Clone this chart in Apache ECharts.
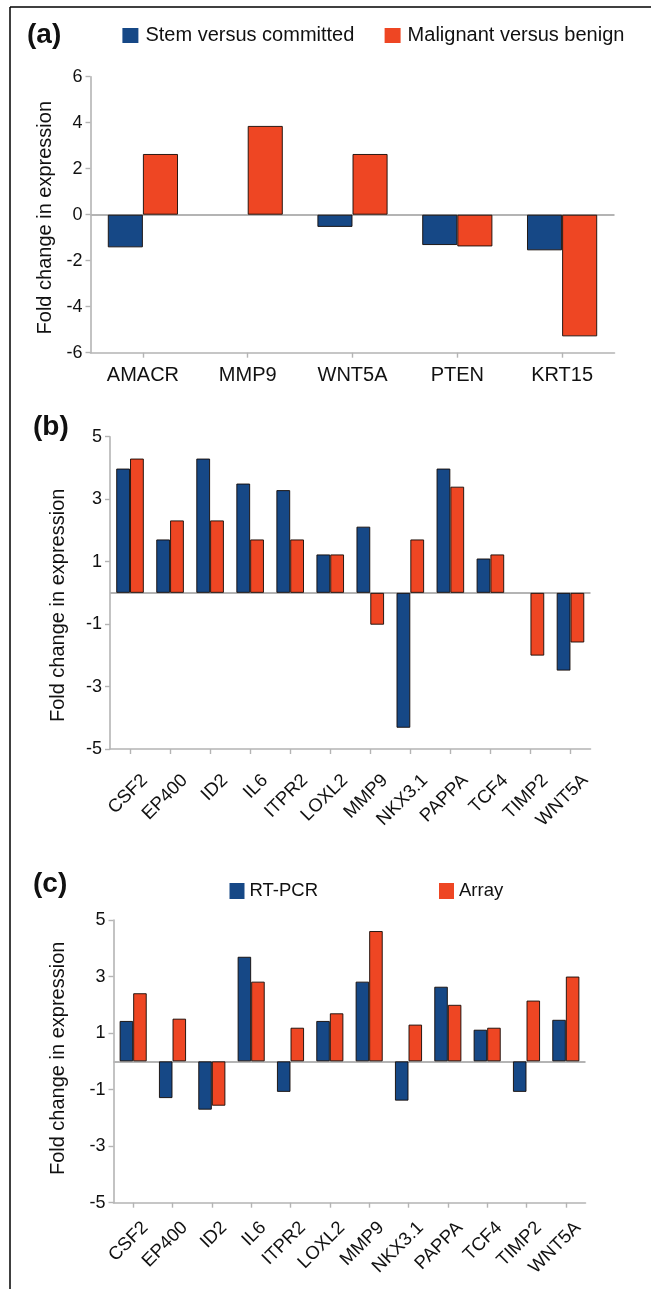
<!DOCTYPE html>
<html>
<head>
<meta charset="utf-8">
<script src="https://cdn.jsdelivr.net/npm/echarts@6/dist/echarts.min.js"></script>
<style>
html,body{margin:0;padding:0;background:#fff;}
#chart{width:651px;height:1289px;}
</style>
</head>
<body>
<div id="chart"></div>
<script>
// ---------- data ----------
var catsA = ['AMACR', 'MMP9', 'WNT5A', 'PTEN', 'KRT15'];
var stemA = [-1.42, null, -0.53, -1.32, -1.55];
var maligA = [2.64, 3.86, 2.64, -1.38, -5.29];

var catsB = ['CSF2', 'EP400', 'ID2', 'IL6', 'ITPR2', 'LOXL2', 'MMP9', 'NKX3.1', 'PAPPA', 'TCF4', 'TIMP2', 'WNT5A'];
var stemB = [3.98, 1.71, 4.30, 3.50, 3.29, 1.23, 2.12, -4.32, 3.98, 1.10, null, -2.49];
var maligB = [4.30, 2.32, 2.32, 1.71, 1.71, 1.23, -1.02, 1.71, 3.40, 1.23, -2.01, -1.59];

var catsC = ['CSF2', 'EP400', 'ID2', 'IL6', 'ITPR2', 'LOXL2', 'MMP9', 'NKX3.1', 'PAPPA', 'TCF4', 'TIMP2', 'WNT5A'];
var rtpcrC = [1.43, -1.30, -1.71, 3.70, -1.08, 1.43, 2.82, -1.39, 2.64, 1.12, -1.08, 1.47];
var arrayC = [2.41, 1.51, -1.57, 2.82, 1.19, 1.70, 4.61, 1.30, 2.00, 1.19, 2.15, 3.00];

var ticksA = [-6, -4, -2, 0, 2, 4, 6];
var ticksBC = [-5, -3, -1, 1, 3, 5];

var seriesNamesA = ['Stem versus committed', 'Malignant versus benign'];
var seriesNamesC = ['RT-PCR', 'Array'];
var yTitle = 'Fold change in expression';
var panelLabels = ['(a)', '(b)', '(c)'];

// ---------- style ----------
var FONT = "'Liberation Sans', Arial, Helvetica, sans-serif";
var BLUE = '#164886';
var RED = '#ee4623';
var GREY = '#b4b4b4';

function yAxisDef(gi, ticks, nameGap, namePad) {
  return {
    type: 'value', gridIndex: gi,
    min: ticks[0], max: ticks[ticks.length - 1], interval: 2,
    name: yTitle, nameLocation: 'middle', nameRotate: 90, nameGap: nameGap,
    nameTextStyle: { fontFamily: FONT, fontSize: 20, color: '#111', padding: namePad },
    axisLine: { show: true, lineStyle: { color: GREY, width: 1.6 } },
    axisTick: { show: true, length: 5, lineStyle: { color: GREY, width: 1.4 },
      customValues: ticks },
    axisLabel: { fontFamily: FONT, fontSize: 18, color: '#111', margin: 8,
      customValues: ticks },
    splitLine: { show: false }
  };
}

function xAxisDef(gi, cats, labelOpt) {
  return {
    type: 'category', gridIndex: gi, data: cats,
    axisLine: { show: true, onZero: false, lineStyle: { color: GREY, width: 1.6 } },
    axisTick: { show: true, alignWithLabel: true, length: 5, lineStyle: { color: GREY, width: 1.4 } },
    axisLabel: labelOpt,
    splitLine: { show: false }
  };
}

function barSeries(name, gi, data, color, gap, withZero) {
  var s = {
    type: 'bar', name: name, xAxisIndex: gi, yAxisIndex: gi, data: data,
    barGap: '0%', barCategoryGap: gap,
    itemStyle: { color: color, borderColor: 'rgba(20,10,5,0.9)', borderWidth: 1 },
    emphasis: { disabled: true },
    animation: false
  };
  if (withZero) {
    s.markLine = {
      silent: true, symbol: 'none', z: 1, animation: false,
      label: { show: false },
      lineStyle: { color: GREY, type: 'solid', width: 2 },
      data: [{ yAxis: 0 }]
    };
  }
  return s;
}

function legendDef(name, left, top, w, h, fs, pad) {
  return {
    data: [name], left: left, top: top, orient: 'horizontal',
    itemWidth: w, itemHeight: h, selectedMode: false, padding: 0,
    icon: 'rect',
    itemStyle: { borderWidth: 0 },
    textStyle: { fontFamily: FONT, fontSize: fs, color: '#111', padding: [0, 0, 0, pad] }
  };
}

var chart = echarts.init(document.getElementById('chart'), null, { renderer: 'canvas', width: 651, height: 1289 });

var option = {
  backgroundColor: '#fff',
  animation: false,
  grid: [
    { left: 90.5, top: 76.7, width: 524, height: 276 },
    { left: 110, top: 436.7, width: 480.5, height: 312.3 },
    { left: 113.5, top: 920, width: 472, height: 282.7 }
  ],
  legend: [
    legendDef(seriesNamesA[0], 122.4, 25.5, 16, 15, 20, 2),
    legendDef(seriesNamesA[1], 384.6, 25.5, 16, 15, 20, 2),
    legendDef(seriesNamesC[0], 229.5, 881.5, 15, 16, 18.5, 0),
    legendDef(seriesNamesC[1], 439, 881.5, 15, 16, 18.5, 0)
  ],
  xAxis: [
    xAxisDef(0, catsA, { fontFamily: FONT, fontSize: 20, color: '#111', margin: 13, interval: 0 }),
    xAxisDef(1, catsB, { fontFamily: FONT, fontSize: 18.5, color: '#111', interval: 0,
      rotate: 45, verticalAlign: 'top', lineHeight: 41.6, margin: 13.8 }),
    xAxisDef(2, catsC, { fontFamily: FONT, fontSize: 18.5, color: '#111', interval: 0,
      rotate: 45, verticalAlign: 'top', lineHeight: 34.2, margin: 10.1 })
  ],
  yAxis: [
    yAxisDef(0, ticksA, 35.5, [0, 6, 0, 0]),
    yAxisDef(1, ticksBC, 42, [0, 25, 0, 0]),
    yAxisDef(2, ticksBC, 45.5, [0, 0, 0, 6])
  ],
  series: [
    barSeries(seriesNamesA[0], 0, stemA, BLUE, '33%', true),
    barSeries(seriesNamesA[1], 0, maligA, RED, '33%', false),
    barSeries('Stem versus committed (b)', 1, stemB, BLUE, '31%', true),
    barSeries('Malignant versus benign (b)', 1, maligB, RED, '31%', false),
    barSeries(seriesNamesC[0], 2, rtpcrC, BLUE, '31%', true),
    barSeries(seriesNamesC[1], 2, arrayC, RED, '31%', false)
  ],
  graphic: [
    { type: 'line', silent: true, shape: { x1: 10, y1: 7, x2: 651, y2: 7 },
      style: { stroke: '#000', lineWidth: 1.5 } },
    { type: 'line', silent: true, shape: { x1: 10, y1: 7, x2: 10, y2: 1289 },
      style: { stroke: '#000', lineWidth: 1.5 } },
    { type: 'text', left: 27, top: 21, silent: true,
      style: { text: panelLabels[0], font: 'bold 28px ' + FONT, fill: '#111' } },
    { type: 'text', left: 33, top: 413, silent: true,
      style: { text: panelLabels[1], font: 'bold 28px ' + FONT, fill: '#111' } },
    { type: 'text', left: 33, top: 870, silent: true,
      style: { text: panelLabels[2], font: 'bold 28px ' + FONT, fill: '#111' } }
  ]
};

chart.setOption(option);
</script>
</body>
</html>
